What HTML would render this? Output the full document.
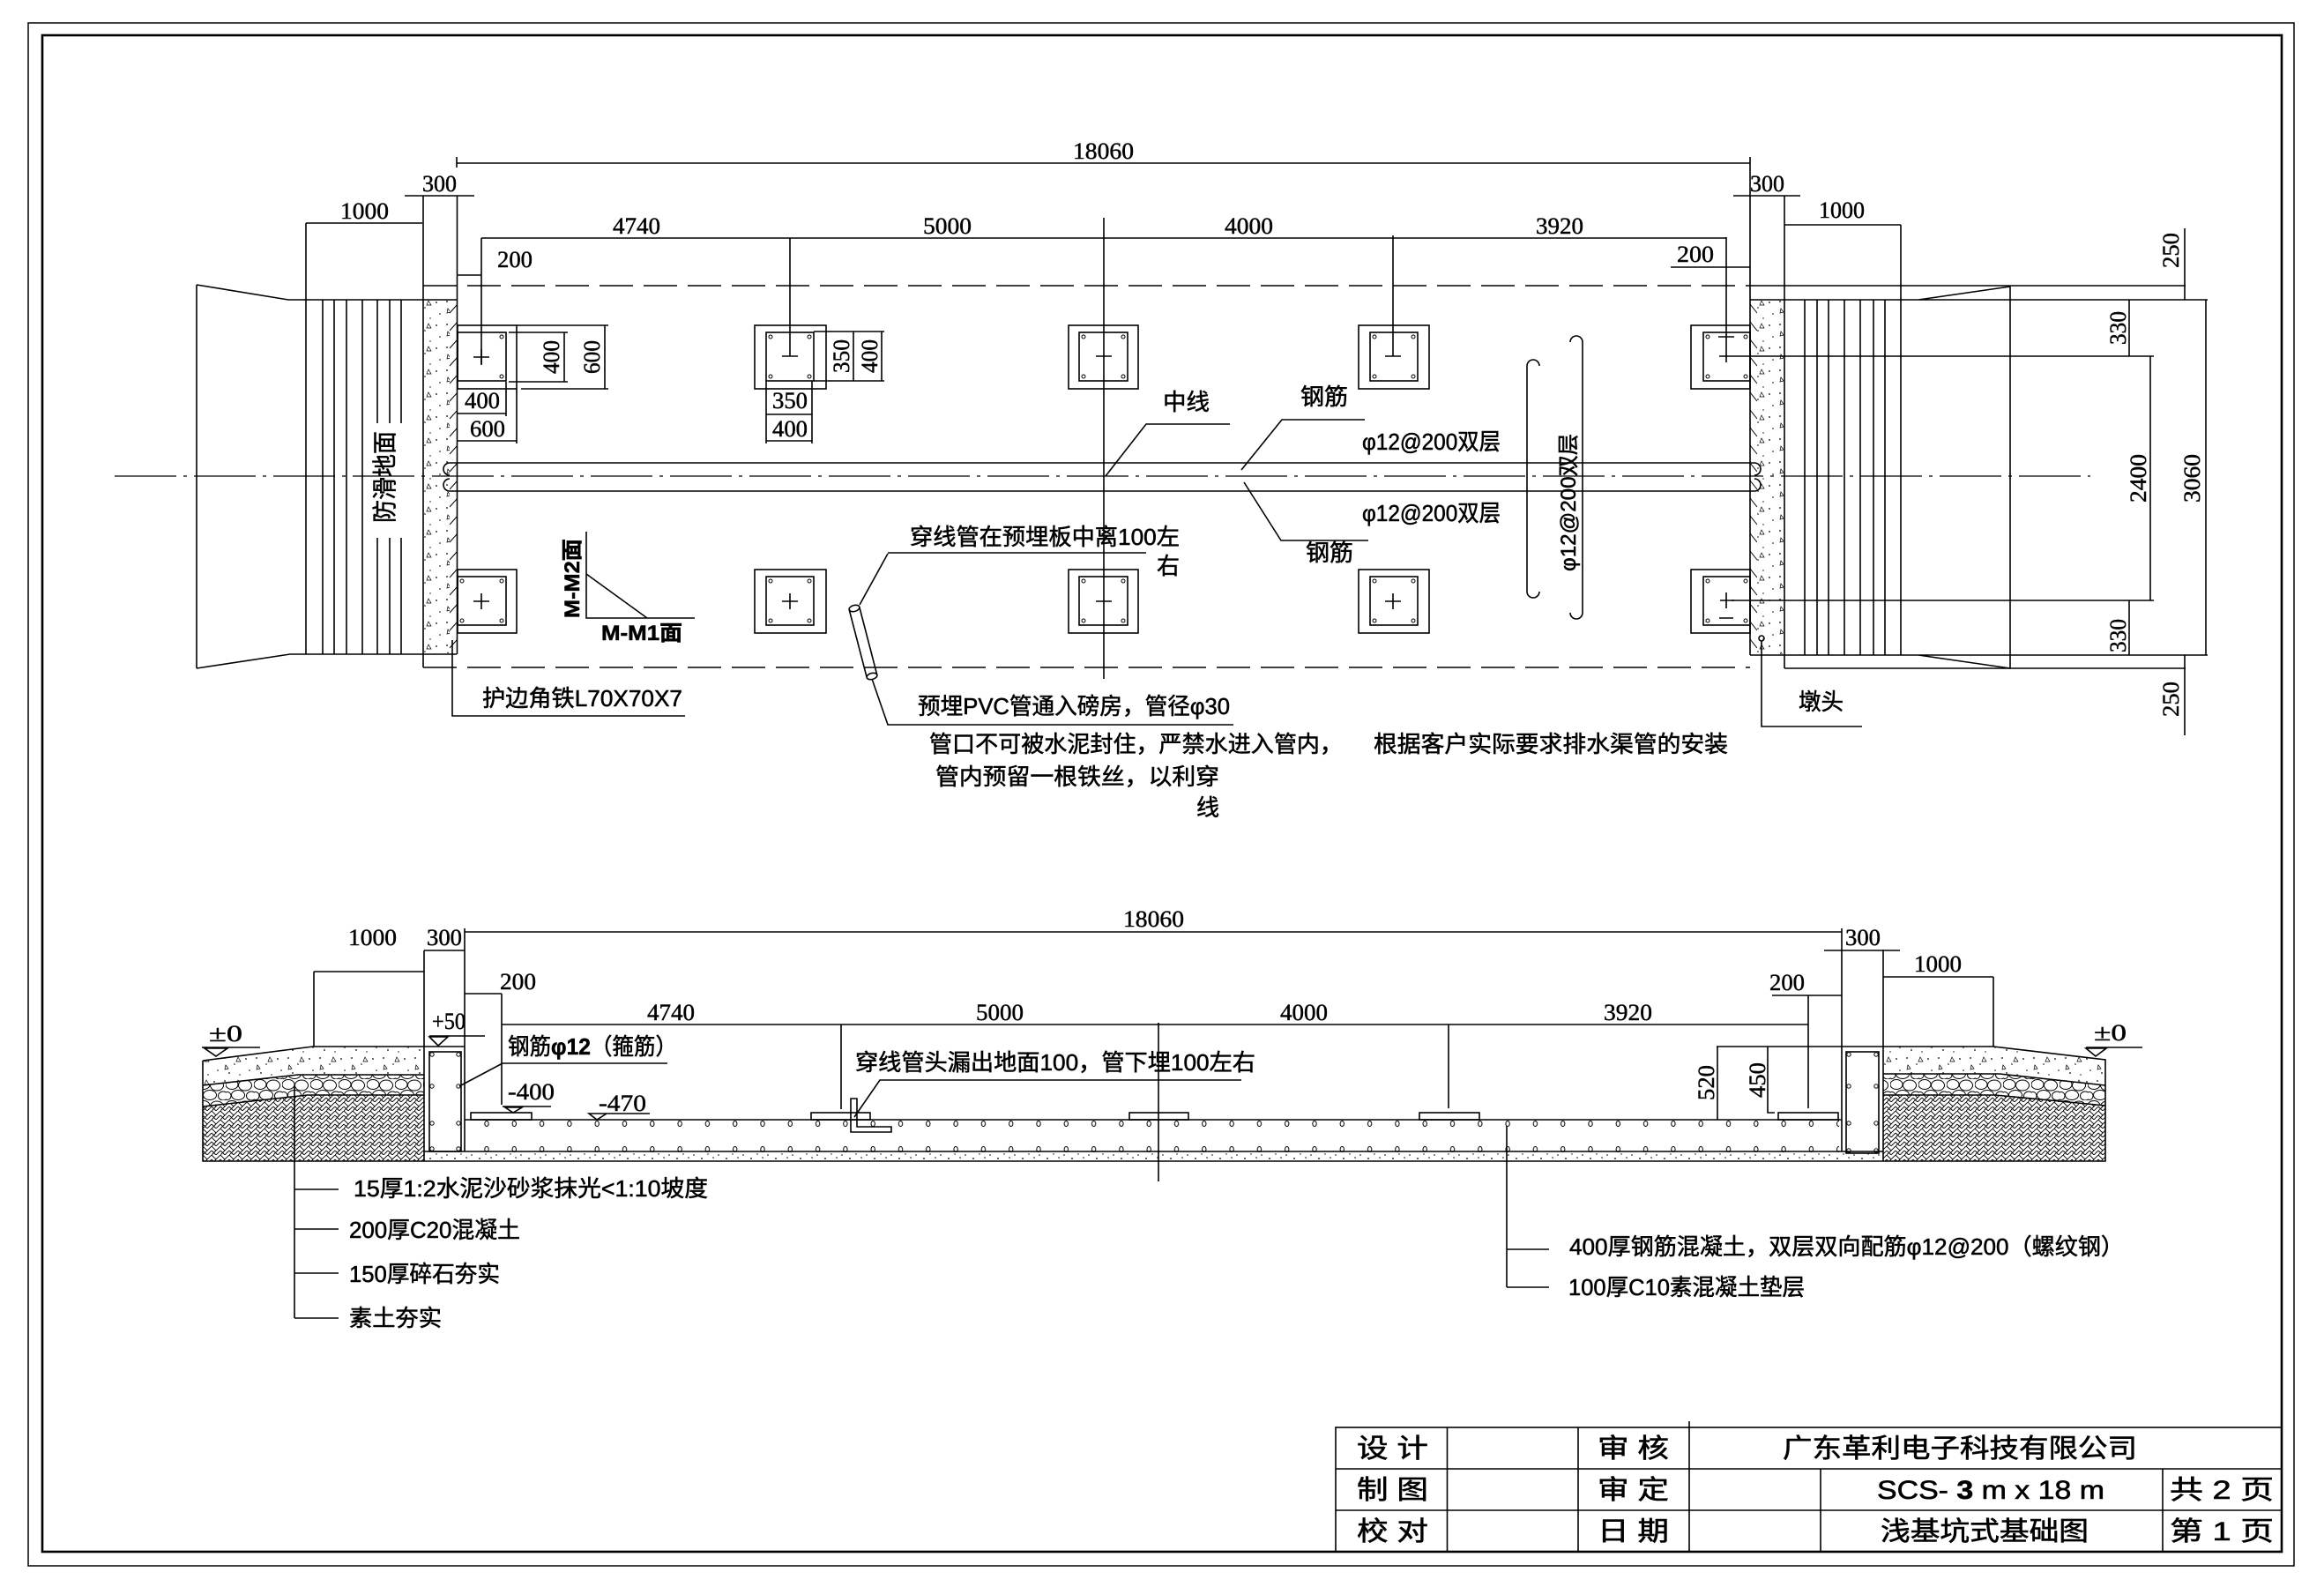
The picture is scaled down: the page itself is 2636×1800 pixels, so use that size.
<!DOCTYPE html>
<html><head><meta charset="utf-8">
<style>
html,body{margin:0;padding:0;background:#fff;}
svg{display:block}
.d{font-family:"Liberation Serif",serif;font-size:26px;fill:#000;stroke:#000;stroke-width:0.45}
.c{font-family:"Liberation Sans","Noto Sans CJK SC",sans-serif;font-size:26px;fill:#000;stroke:#000;stroke-width:0.55}
.t{font-family:"Liberation Sans","Noto Sans CJK SC",sans-serif;font-size:30px;fill:#000;stroke:#000;stroke-width:0.6}
.b{font-weight:bold}
</style></head><body>
<svg width="2636" height="1800" viewBox="0 0 2636 1800" xmlns="http://www.w3.org/2000/svg">
<defs>
<pattern id="conc" width="36" height="26" patternUnits="userSpaceOnUse">
<g fill="#000"><circle cx="3" cy="4" r="0.9"/><circle cx="14" cy="11" r="0.8"/><circle cx="27" cy="5" r="0.9"/><circle cx="31" cy="18" r="0.8"/><circle cx="8" cy="21" r="0.9"/><circle cx="20" cy="23" r="0.7"/></g>
<path d="M18 3 l3 5 l-5 0 z M4 12 l3 4 l-4 1 z" fill="none" stroke="#000" stroke-width="0.7"/>
</pattern>
<pattern id="grav" width="32" height="24" patternUnits="userSpaceOnUse">
<g fill="none" stroke="#000" stroke-width="1">
<ellipse cx="7" cy="6" rx="7" ry="5.5"/><ellipse cx="22" cy="7" rx="7.5" ry="6"/><ellipse cx="14" cy="18" rx="7.5" ry="5.5"/><ellipse cx="29" cy="19" rx="5.5" ry="5"/><ellipse cx="2" cy="19" rx="4" ry="4.5"/>
</g></pattern>
<pattern id="soil" width="10" height="10" patternUnits="userSpaceOnUse">
<path d="M0 0 L5 5 L10 0 M0 5 L5 10 L10 5 M0 10 L5 5" fill="none" stroke="#000" stroke-width="0.9"/>
</pattern>
<pattern id="hL" x="510" y="340" width="9" height="20" patternUnits="userSpaceOnUse"><path d="M0 15 L9 5" stroke="#000" stroke-width="1"/></pattern>
<pattern id="hR" x="1985" y="340" width="8" height="20" patternUnits="userSpaceOnUse"><path d="M0 5 L8 15" stroke="#000" stroke-width="1"/></pattern>
<pattern id="rb" x="536.35" y="1262" width="31.3" height="60" patternUnits="userSpaceOnUse"><g fill="none" stroke="#000" stroke-width="1"><ellipse cx="15.65" cy="12.5" rx="2.2" ry="3"/><ellipse cx="15.65" cy="41.5" rx="2.2" ry="3"/></g></pattern>
<pattern id="lean" width="28" height="11" y="1306" patternUnits="userSpaceOnUse"><g fill="#000"><circle cx="3" cy="4" r="0.8"/><circle cx="12" cy="8" r="0.9"/><circle cx="19" cy="3" r="0.7"/><circle cx="25" cy="7" r="0.8"/></g></pattern>
</defs>
<rect width="2636" height="1800" fill="#fff"/>

<!-- borders -->
<g fill="none" stroke="#000">
<rect x="32" y="26" width="2570" height="1750" stroke-width="1.5"/>
<rect x="48" y="40" width="2540" height="1720" stroke-width="2.6"/>
</g>

<!-- ================= PLAN ================= -->
<rect x="481" y="341" width="29" height="400" fill="url(#conc)"/>
<rect x="1993" y="341" width="30" height="401" fill="url(#conc)"/>
<rect x="510" y="340" width="8.5" height="402" fill="url(#hL)"/>
<rect x="1985" y="340" width="8" height="403" fill="url(#hR)"/>

<g fill="none" stroke="#000" stroke-width="1.6">
<path d="M518 185H1985M518 178V190M1985 178V743"/>
<path d="M459 222H538M480 222V757M518.5 222V742"/>
<path d="M347 253H479M347 253V742"/>
<path d="M546 270H1958"/>
<path d="M546 270V413M896 270V404M1252 247V770M1580 267V404M1958 269V411"/>
<path d="M518 312H546"/>
<path d="M1895 303H1985"/>
<path d="M1966 222H2042M2024 222V758"/>
<path d="M2024 255H2156M2156 255V743"/>
<path d="M480 324H1985M480 757H1985" stroke-dasharray="38 12"/>
<path d="M1985 324H2479M2024 758H2479"/>
<path d="M223 323V758M223 323L327 340H518M223 758L329 742H518"/>
<path d="M366 340V742M379 340V742M393 340V742M411 340V742M428 340V742M442 340V742M455 340V742"/>
<path d="M1985 340H2504M1985 743H2504M2176 340L2280 325V758L2176 743"/>
<path d="M2047 340V743M2061 340V743M2074 340V743M2092 340V743M2110 340V743M2125 340V743M2138 340V743"/>
</g>
<rect x="422" y="480" width="37" height="130" fill="#fff"/>

<g fill="none" stroke="#000" stroke-width="1.6">
<path d="M510 525H1990M510 557H1990"/>
<path d="M510 525A7 7 0 0 0 510 539M510 557A7 7 0 0 1 510 543"/>
<path d="M1990 525A7 7 0 0 1 1990 539M1990 557A7 7 0 0 0 1990 543"/>
<path d="M130 540H2371" stroke-width="1.3" stroke-dasharray="70 8 4 8"/>

<rect x="519" y="369" width="67" height="72"/><rect x="519" y="377" width="55" height="55"/>
<rect x="856" y="369" width="81" height="72"/><rect x="869" y="377" width="54" height="55"/>
<rect x="1212" y="369" width="79" height="72"/><rect x="1224" y="377" width="55" height="55"/>
<rect x="1541" y="369" width="80" height="72"/><rect x="1554" y="377" width="54" height="55"/>
<rect x="1918" y="369" width="67" height="72"/><rect x="1932" y="377" width="53" height="55"/>
<rect x="519" y="646" width="67" height="72"/><rect x="519" y="654" width="55" height="55"/>
<rect x="856" y="646" width="81" height="72"/><rect x="869" y="654" width="54" height="55"/>
<rect x="1212" y="646" width="79" height="72"/><rect x="1224" y="654" width="55" height="55"/>
<rect x="1541" y="646" width="80" height="72"/><rect x="1554" y="654" width="54" height="55"/>
<rect x="1918" y="646" width="67" height="72"/><rect x="1932" y="654" width="53" height="55"/>
<path d="M537 405H555M546 396V414M887 404H905M1243 404H1261M1571 404H1589M1949 382H1967"/>
<path d="M537 682H555M546 673V691M887 682H905M896 673V691M1243 682H1261M1571 682H1589M1580 673V691M1951 681H1967M1958 672V690M1950 701H1966"/>

<path d="M640 377V433M577 377H644M577 433H644"/>
<path d="M686 369V441M586 369H690M591 441H690"/>
<path d="M518 469H574M574 433V472"/>
<path d="M518 500H586M586 441V503"/>
<path d="M968 376V432M1000 376V432M923 376H1003M923 432H1003"/>
<path d="M869 432V503M921 432V503M869 470H921M869 500H921"/>

<path d="M1950 404H2443M1964 681H2443"/>
<path d="M2415 340V404M2415 681V743M2439 404V681M2502 340V743M2478 259V340M2478 743V834"/>

<path d="M1746 415A7 7 0 0 0 1732 415V671A7 7 0 0 0 1746 671"/>
<path d="M1781 388A7 7 0 0 1 1795 388V695A7 7 0 0 1 1781 695"/>

<path d="M1254 540L1300 481H1395"/>
<path d="M1408 533L1454 476H1548"/>
<path d="M1411 547L1453 613H1552"/>
<path d="M1007 627H1300M975 686L1007 628"/>
<path d="M989 770L1007 822H1399"/>
<path d="M513 726V812H777"/>
<path d="M1998 727V824H2112"/>
<circle cx="1998" cy="724" r="3"/>
<path d="M665 603V701H788M665 651L734 701"/>
<path d="M963.2 691.5L983.2 768.5M974.8 688.5L994.8 765.5"/>
<ellipse cx="969" cy="690" rx="6" ry="3.5" transform="rotate(-14.5 969 690)"/>
<ellipse cx="989" cy="767" rx="6" ry="3.5" transform="rotate(-14.5 989 767)"/>
</g>
<g fill="none" stroke="#000" stroke-width="1">
<circle cx="569" cy="382" r="2"/><circle cx="569" cy="427" r="2"/>
<circle cx="874" cy="382" r="2"/><circle cx="918" cy="382" r="2"/><circle cx="874" cy="427" r="2"/><circle cx="918" cy="427" r="2"/>
<circle cx="1229" cy="382" r="2"/><circle cx="1274" cy="382" r="2"/><circle cx="1229" cy="427" r="2"/><circle cx="1274" cy="427" r="2"/>
<circle cx="1559" cy="382" r="2"/><circle cx="1603" cy="382" r="2"/><circle cx="1559" cy="427" r="2"/><circle cx="1603" cy="427" r="2"/>
<circle cx="1937" cy="382" r="2"/><circle cx="1980" cy="382" r="2"/><circle cx="1937" cy="427" r="2"/><circle cx="1980" cy="427" r="2"/>
<circle cx="524" cy="659" r="2"/><circle cx="569" cy="659" r="2"/><circle cx="524" cy="704" r="2"/><circle cx="569" cy="704" r="2"/>
<circle cx="874" cy="659" r="2"/><circle cx="918" cy="659" r="2"/><circle cx="874" cy="704" r="2"/><circle cx="918" cy="704" r="2"/>
<circle cx="1229" cy="659" r="2"/><circle cx="1274" cy="659" r="2"/><circle cx="1229" cy="704" r="2"/><circle cx="1274" cy="704" r="2"/>
<circle cx="1559" cy="659" r="2"/><circle cx="1603" cy="659" r="2"/><circle cx="1559" cy="704" r="2"/><circle cx="1603" cy="704" r="2"/>
<circle cx="1937" cy="659" r="2"/><circle cx="1980" cy="659" r="2"/><circle cx="1937" cy="704" r="2"/><circle cx="1980" cy="704" r="2"/>
</g>

<g class="d">
<text x="1217" y="180" textLength="69" lengthAdjust="spacingAndGlyphs">18060</text>
<text x="479" y="217" textLength="39" lengthAdjust="spacingAndGlyphs">300</text>
<text x="386" y="248" textLength="55" lengthAdjust="spacingAndGlyphs">1000</text>
<text x="695" y="265" textLength="54" lengthAdjust="spacingAndGlyphs">4740</text>
<text x="564" y="303" textLength="40" lengthAdjust="spacingAndGlyphs">200</text>
<text x="1047" y="265" textLength="55" lengthAdjust="spacingAndGlyphs">5000</text>
<text x="1389" y="265" textLength="55" lengthAdjust="spacingAndGlyphs">4000</text>
<text x="1742" y="265" textLength="54" lengthAdjust="spacingAndGlyphs">3920</text>
<text x="1902" y="297" textLength="42" lengthAdjust="spacingAndGlyphs">200</text>
<text x="1985" y="217" textLength="39" lengthAdjust="spacingAndGlyphs">300</text>
<text x="2063" y="247" textLength="52" lengthAdjust="spacingAndGlyphs">1000</text>
<text x="527" y="463" textLength="40" lengthAdjust="spacingAndGlyphs">400</text>
<text x="533" y="495" textLength="40" lengthAdjust="spacingAndGlyphs">600</text>
<text x="876" y="463" textLength="40" lengthAdjust="spacingAndGlyphs">350</text>
<text x="876" y="495" textLength="40" lengthAdjust="spacingAndGlyphs">400</text>
<text transform="translate(634,405) rotate(-90)" x="-19" y="0" textLength="38" lengthAdjust="spacingAndGlyphs">400</text>
<text transform="translate(680,405) rotate(-90)" x="-19" y="0" textLength="38" lengthAdjust="spacingAndGlyphs">600</text>
<text transform="translate(963,404) rotate(-90)" x="-19" y="0" textLength="38" lengthAdjust="spacingAndGlyphs">350</text>
<text transform="translate(995,404) rotate(-90)" x="-19" y="0" textLength="38" lengthAdjust="spacingAndGlyphs">400</text>
<text transform="translate(2411,372) rotate(-90)" x="-19" y="0" textLength="38" lengthAdjust="spacingAndGlyphs">330</text>
<text transform="translate(2411,721) rotate(-90)" x="-19" y="0" textLength="38" lengthAdjust="spacingAndGlyphs">330</text>
<text transform="translate(2434,543) rotate(-90)" x="-27" y="0" textLength="55" lengthAdjust="spacingAndGlyphs">2400</text>
<text transform="translate(2495,543) rotate(-90)" x="-27" y="0" textLength="55" lengthAdjust="spacingAndGlyphs">3060</text>
<text transform="translate(2471,284) rotate(-90)" x="-20" y="0" textLength="40" lengthAdjust="spacingAndGlyphs">250</text>
<text transform="translate(2471,793) rotate(-90)" x="-20" y="0" textLength="40" lengthAdjust="spacingAndGlyphs">250</text>
</g>
<g class="c">
<text transform="translate(446,541) rotate(-90)" x="-52" y="0" style="font-size:28px" textLength="104" lengthAdjust="spacingAndGlyphs">防滑地面</text>
<text class="b" transform="translate(657,656) rotate(-90)" x="-45" y="0" style="font-size:24px" textLength="90" lengthAdjust="spacingAndGlyphs">M-M2面</text>
<text class="b" x="682" y="726" style="font-size:24px" textLength="92" lengthAdjust="spacingAndGlyphs">M-M1面</text>
<text transform="translate(1787,570) rotate(-90)" x="-78" y="0" style="font-size:24px" textLength="156" lengthAdjust="spacingAndGlyphs">φ12@200双层</text>
<text x="1319" y="465" textLength="53" lengthAdjust="spacingAndGlyphs">中线</text>
<text x="1475" y="459" textLength="54" lengthAdjust="spacingAndGlyphs">钢筋</text>
<text x="1545" y="510" textLength="157" lengthAdjust="spacingAndGlyphs">φ12@200双层</text>
<text x="1545" y="591" textLength="157" lengthAdjust="spacingAndGlyphs">φ12@200双层</text>
<text x="1481" y="636" textLength="54" lengthAdjust="spacingAndGlyphs">钢筋</text>
<text x="1032" y="618" textLength="306" lengthAdjust="spacingAndGlyphs">穿线管在预埋板中离100左</text>
<text x="1312" y="651" textLength="26" lengthAdjust="spacingAndGlyphs">右</text>
<text x="1041" y="810" textLength="354" lengthAdjust="spacingAndGlyphs">预埋PVC管通入磅房，管径φ30</text>
<text x="1054" y="853" textLength="469" lengthAdjust="spacingAndGlyphs">管口不可被水泥封住，严禁水进入管内，</text>
<text x="1558" y="853" textLength="402" lengthAdjust="spacingAndGlyphs">根据客户实际要求排水渠管的安装</text>
<text x="1061" y="890" textLength="322" lengthAdjust="spacingAndGlyphs">管内预留一根铁丝，以利穿</text>
<text x="1357" y="925" textLength="26" lengthAdjust="spacingAndGlyphs">线</text>
<text x="547" y="801" textLength="227" lengthAdjust="spacingAndGlyphs">护边角铁L70X70X7</text>
<text x="2040" y="805" textLength="51" lengthAdjust="spacingAndGlyphs">墩头</text>
</g>

<!-- ================= SECTION ================= -->
<polygon points="230,1203 355,1187 481,1187 481,1219 338,1219 230,1231" fill="url(#conc)"/>
<polygon points="230,1231 338,1219 481,1219 481,1242 349,1242 230,1255" fill="url(#grav)"/>
<polygon points="230,1255 349,1242 481,1242 481,1317 230,1317" fill="url(#soil)"/>
<polygon points="2136,1187 2261,1187 2388,1202 2388,1231 2268,1218 2136,1218" fill="url(#conc)"/>
<polygon points="2136,1218 2268,1218 2388,1231 2388,1254 2263,1242 2136,1242" fill="url(#grav)"/>
<polygon points="2136,1242 2263,1242 2388,1254 2388,1317 2136,1317" fill="url(#soil)"/>
<rect x="482" y="1307" width="1653" height="9" fill="url(#lean)"/>
<rect x="530" y="1268" width="1556" height="40" fill="url(#rb)"/>

<g fill="none" stroke="#000" stroke-width="1.6">
<path d="M527 1057H2089M527 1053V1306M2089 1053V1306"/>
<path d="M481 1078H527M481 1078V1317"/>
<path d="M356 1102H481M356 1102V1187"/>
<path d="M527 1127H569M569 1127V1253"/>
<path d="M569 1162H2051M954 1162V1258M1314 1160V1340M1643 1162V1257"/>
<path d="M2010 1129H2089M2051 1129V1257"/>
<path d="M2069 1078H2155M2136 1077V1317"/>
<path d="M2136 1108H2261M2261 1108V1187"/>
<path d="M1947 1187H2261M1948 1187V1270M2005 1187V1262H2013"/>
<path d="M230 1203L355 1187H527M230 1203V1317H2388V1202L2261 1187"/>
<path d="M230 1231L338 1219H481M230 1255L349 1242H481"/>
<path d="M2136 1218H2268L2388 1231M2136 1242H2263L2388 1254"/>
<path d="M527 1270H2089M481 1306H2136"/>
<rect x="487" y="1193" width="36" height="113"/>
<rect x="2094" y="1193" width="37" height="115"/>
<rect x="534" y="1262" width="69" height="8"/>
<rect x="920" y="1262" width="67" height="8"/>
<rect x="1281" y="1262" width="67" height="8"/>
<rect x="1610" y="1262" width="68" height="8"/>
<rect x="2017" y="1262" width="68" height="8"/>
<path d="M965 1246H972V1278H1011V1284H965Z"/>
<path d="M229 1188H295M232 1189L258 1189L245 1198Z"/>
<path d="M2366 1188H2430M2366 1189L2389 1189L2377 1198Z"/>
<path d="M487 1175H550M487 1176L508 1176L497 1186Z"/>
<path d="M570 1255H625M573 1256L592 1256L582 1262Z"/>
<path d="M668 1263H737M668 1263L688 1263L677 1270Z"/>
<path d="M570 1206H757M570 1206L521 1232"/>
<path d="M969 1267L998 1225H1408"/>
<path d="M334 1232V1495M334 1349H384M334 1394H384M334 1444H384M334 1495H384"/>
<path d="M1709 1277V1460M1709 1417H1757M1709 1460H1757"/>
</g>
<g fill="none" stroke="#000" stroke-width="1">
<circle cx="490" cy="1196" r="2.2"/><circle cx="520" cy="1196" r="2.2"/>
<circle cx="490" cy="1232" r="2.2"/><circle cx="520" cy="1232" r="2.2"/>
<circle cx="490" cy="1274" r="2.2"/><circle cx="520" cy="1274" r="2.2"/>
<circle cx="490" cy="1303" r="2.2"/><circle cx="520" cy="1303" r="2.2"/>
<circle cx="2097" cy="1196" r="2.2"/><circle cx="2128" cy="1196" r="2.2"/>
<circle cx="2097" cy="1232" r="2.2"/><circle cx="2128" cy="1232" r="2.2"/>
<circle cx="2097" cy="1274" r="2.2"/><circle cx="2128" cy="1274" r="2.2"/>
<circle cx="2097" cy="1305" r="2.2"/><circle cx="2128" cy="1305" r="2.2"/>
</g>

<g class="d">
<text x="1274" y="1051" textLength="69" lengthAdjust="spacingAndGlyphs">18060</text>
<text x="395" y="1072" textLength="55" lengthAdjust="spacingAndGlyphs">1000</text>
<text x="484" y="1072" textLength="40" lengthAdjust="spacingAndGlyphs">300</text>
<text x="567" y="1122" textLength="41" lengthAdjust="spacingAndGlyphs">200</text>
<text x="734" y="1157" textLength="54" lengthAdjust="spacingAndGlyphs">4740</text>
<text x="1107" y="1157" textLength="54" lengthAdjust="spacingAndGlyphs">5000</text>
<text x="1452" y="1157" textLength="54" lengthAdjust="spacingAndGlyphs">4000</text>
<text x="1819" y="1157" textLength="55" lengthAdjust="spacingAndGlyphs">3920</text>
<text x="2007" y="1123" textLength="40" lengthAdjust="spacingAndGlyphs">200</text>
<text x="2093" y="1072" textLength="40" lengthAdjust="spacingAndGlyphs">300</text>
<text x="2171" y="1102" textLength="54" lengthAdjust="spacingAndGlyphs">1000</text>
<text x="237" y="1181" textLength="38" lengthAdjust="spacingAndGlyphs">±0</text>
<text x="2375" y="1180" textLength="37" lengthAdjust="spacingAndGlyphs">±0</text>
<text x="490" y="1167" textLength="38" lengthAdjust="spacingAndGlyphs">+50</text>
<text x="576" y="1247" textLength="53" lengthAdjust="spacingAndGlyphs">-400</text>
<text x="679" y="1260" textLength="54" lengthAdjust="spacingAndGlyphs">-470</text>
<text transform="translate(1944,1228) rotate(-90)" x="-20" y="0" textLength="40" lengthAdjust="spacingAndGlyphs">520</text>
<text transform="translate(2002,1225) rotate(-90)" x="-20" y="0" textLength="40" lengthAdjust="spacingAndGlyphs">450</text>
</g>
<g class="c">
<text x="576" y="1196" textLength="192" lengthAdjust="spacingAndGlyphs">钢筋<tspan class="b">φ12</tspan>（箍筋）</text>
<text x="970" y="1214" textLength="454" lengthAdjust="spacingAndGlyphs">穿线管头漏出地面100，管下埋100左右</text>
<text x="401" y="1357" textLength="402" lengthAdjust="spacingAndGlyphs">15厚1:2水泥沙砂浆抹光&lt;1:10坡度</text>
<text x="396" y="1404" textLength="194" lengthAdjust="spacingAndGlyphs">200厚C20混凝土</text>
<text x="396" y="1454" textLength="171" lengthAdjust="spacingAndGlyphs">150厚碎石夯实</text>
<text x="396" y="1504" textLength="105" lengthAdjust="spacingAndGlyphs">素土夯实</text>
<text x="1780" y="1423" textLength="629" lengthAdjust="spacingAndGlyphs">400厚钢筋混凝土，双层双向配筋φ12@200（螺纹钢）</text>
<text x="1779" y="1469" textLength="268" lengthAdjust="spacingAndGlyphs">100厚C10素混凝土垫层</text>
</g>

<!-- ================= TITLE BLOCK ================= -->
<g fill="none" stroke="#000" stroke-width="1.6">
<rect x="1515" y="1619" width="1073" height="141"/>
<path d="M1515 1666H2588M1515 1713H2588"/>
<path d="M1641.5 1619V1760M1790 1619V1760M1916 1612V1760M2065 1666V1760M2453 1666V1760"/>
</g>
<g class="t">
<text x="1539" y="1653" textLength="81" lengthAdjust="spacingAndGlyphs">设 计</text>
<text x="1539" y="1700" textLength="81" lengthAdjust="spacingAndGlyphs">制 图</text>
<text x="1539" y="1747" textLength="81" lengthAdjust="spacingAndGlyphs">校 对</text>
<text x="1812" y="1653" textLength="81" lengthAdjust="spacingAndGlyphs">审 核</text>
<text x="1812" y="1700" textLength="81" lengthAdjust="spacingAndGlyphs">审 定</text>
<text x="1812" y="1747" textLength="81" lengthAdjust="spacingAndGlyphs">日 期</text>
<text x="2022" y="1653" textLength="402" lengthAdjust="spacingAndGlyphs">广东革利电子科技有限公司</text>
<text x="2129" y="1700" textLength="258" lengthAdjust="spacingAndGlyphs">SCS- <tspan class="b">3</tspan> m x 18 m</text>
<text x="2461" y="1700" textLength="118" lengthAdjust="spacingAndGlyphs">共 2 页</text>
<text x="2133" y="1747" textLength="236" lengthAdjust="spacingAndGlyphs">浅基坑式基础图</text>
<text x="2461" y="1747" textLength="118" lengthAdjust="spacingAndGlyphs">第 1 页</text>
</g>
</svg>
</body></html>
